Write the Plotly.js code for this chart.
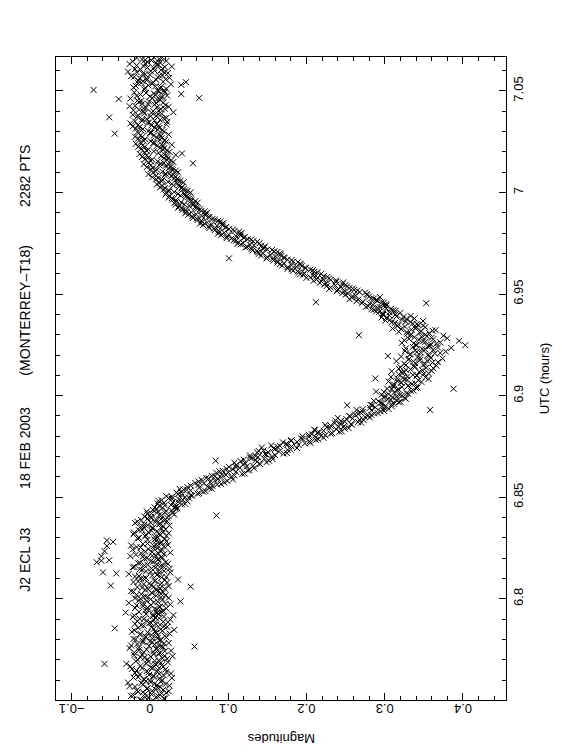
<!DOCTYPE html>
<html>
<head>
<meta charset="utf-8">
<script src="https://cdn.plot.ly/plotly-3.0.1.min.js"></script>
<style>html,body{margin:0;padding:0;background:#fff;}#chart{width:562px;height:756px;}</style>
</head>
<body>
<div id="chart"></div>
<script>
// UTC sample times (hours), first interleaved set
const utc = [
6.7500,6.7505,6.7510,6.7515,6.7520,6.7525,6.7530,6.7535,6.7540,6.7545,
6.7550,6.7555,6.7560,6.7565,6.7570,6.7575,6.7580,6.7585,6.7590,6.7595,
6.7600,6.7605,6.7610,6.7615,6.7620,6.7625,6.7630,6.7635,6.7640,6.7645,
6.7650,6.7655,6.7660,6.7665,6.7670,6.7675,6.7680,6.7685,6.7690,6.7695,
6.7700,6.7705,6.7710,6.7715,6.7720,6.7725,6.7730,6.7735,6.7740,6.7745,
6.7750,6.7755,6.7760,6.7765,6.7770,6.7775,6.7780,6.7785,6.7790,6.7795,
6.7800,6.7805,6.7810,6.7815,6.7820,6.7825,6.7830,6.7835,6.7840,6.7845,
6.7850,6.7855,6.7860,6.7865,6.7870,6.7875,6.7880,6.7885,6.7890,6.7895,
6.7900,6.7905,6.7910,6.7915,6.7920,6.7925,6.7930,6.7935,6.7940,6.7945,
6.7950,6.7955,6.7960,6.7965,6.7970,6.7975,6.7980,6.7985,6.7990,6.7995,
6.8000,6.8005,6.8010,6.8015,6.8020,6.8025,6.8030,6.8035,6.8040,6.8045,
6.8050,6.8055,6.8060,6.8065,6.8070,6.8075,6.8080,6.8085,6.8090,6.8095,
6.8100,6.8105,6.8110,6.8115,6.8120,6.8125,6.8130,6.8135,6.8140,6.8145,
6.8150,6.8155,6.8160,6.8165,6.8170,6.8175,6.8180,6.8185,6.8190,6.8195,
6.8200,6.8205,6.8210,6.8215,6.8220,6.8225,6.8230,6.8235,6.8240,6.8245,
6.8250,6.8255,6.8260,6.8265,6.8270,6.8275,6.8280,6.8285,6.8290,6.8295,
6.8300,6.8305,6.8310,6.8315,6.8320,6.8325,6.8330,6.8335,6.8340,6.8345,
6.8350,6.8355,6.8360,6.8365,6.8370,6.8375,6.8380,6.8385,6.8390,6.8395,
6.8400,6.8405,6.8410,6.8415,6.8420,6.8425,6.8430,6.8435,6.8440,6.8445,
6.8450,6.8455,6.8460,6.8465,6.8470,6.8475,6.8480,6.8485,6.8490,6.8495,
6.8500,6.8505,6.8510,6.8515,6.8520,6.8525,6.8530,6.8535,6.8540,6.8545,
6.8550,6.8555,6.8560,6.8565,6.8570,6.8575,6.8580,6.8585,6.8590,6.8595,
6.8600,6.8605,6.8610,6.8615,6.8620,6.8625,6.8630,6.8635,6.8640,6.8645,
6.8650,6.8655,6.8660,6.8665,6.8670,6.8675,6.8680,6.8685,6.8690,6.8695,
6.8700,6.8705,6.8710,6.8715,6.8720,6.8725,6.8730,6.8735,6.8740,6.8745,
6.8750,6.8755,6.8760,6.8765,6.8770,6.8775,6.8780,6.8785,6.8790,6.8795,
6.8800,6.8805,6.8810,6.8815,6.8820,6.8825,6.8830,6.8835,6.8840,6.8845,
6.8850,6.8855,6.8860,6.8865,6.8870,6.8875,6.8880,6.8885,6.8890,6.8895,
6.8900,6.8905,6.8910,6.8915,6.8920,6.8925,6.8930,6.8935,6.8940,6.8945,
6.8950,6.8955,6.8960,6.8965,6.8970,6.8975,6.8980,6.8985,6.8990,6.8995,
6.9000,6.9005,6.9010,6.9015,6.9020,6.9025,6.9030,6.9035,6.9040,6.9045,
6.9050,6.9055,6.9060,6.9065,6.9070,6.9075,6.9080,6.9085,6.9090,6.9095,
6.9100,6.9105,6.9110,6.9115,6.9120,6.9125,6.9130,6.9135,6.9140,6.9145,
6.9150,6.9155,6.9160,6.9165,6.9170,6.9175,6.9180,6.9185,6.9190,6.9195,
6.9200,6.9205,6.9210,6.9215,6.9220,6.9225,6.9230,6.9235,6.9240,6.9245,
6.9250,6.9255,6.9260,6.9265,6.9270,6.9275,6.9280,6.9285,6.9290,6.9295,
6.9300,6.9305,6.9310,6.9315,6.9320,6.9325,6.9330,6.9335,6.9340,6.9345,
6.9350,6.9355,6.9360,6.9365,6.9370,6.9375,6.9380,6.9385,6.9390,6.9395,
6.9400,6.9405,6.9410,6.9415,6.9420,6.9425,6.9430,6.9435,6.9440,6.9445,
6.9450,6.9455,6.9460,6.9465,6.9470,6.9475,6.9480,6.9485,6.9490,6.9495,
6.9500,6.9505,6.9510,6.9515,6.9520,6.9525,6.9530,6.9535,6.9540,6.9545,
6.9550,6.9555,6.9560,6.9565,6.9570,6.9575,6.9580,6.9585,6.9590,6.9595,
6.9600,6.9605,6.9610,6.9615,6.9620,6.9625,6.9630,6.9635,6.9640,6.9645,
6.9650,6.9655,6.9660,6.9665,6.9670,6.9675,6.9680,6.9685,6.9690,6.9695,
6.9700,6.9705,6.9710,6.9715,6.9720,6.9725,6.9730,6.9735,6.9740,6.9745,
6.9750,6.9755,6.9760,6.9765,6.9770,6.9775,6.9780,6.9785,6.9790,6.9795,
6.9800,6.9805,6.9810,6.9815,6.9820,6.9825,6.9830,6.9835,6.9840,6.9845,
6.9850,6.9855,6.9860,6.9865,6.9870,6.9875,6.9880,6.9885,6.9890,6.9895,
6.9900,6.9905,6.9910,6.9915,6.9920,6.9925,6.9930,6.9935,6.9940,6.9945,
6.9950,6.9955,6.9960,6.9965,6.9970,6.9975,6.9980,6.9985,6.9990,6.9995,
7.0000,7.0005,7.0010,7.0015,7.0020,7.0025,7.0030,7.0035,7.0040,7.0045,
7.0050,7.0055,7.0060,7.0065,7.0070,7.0075,7.0080,7.0085,7.0090,7.0095,
7.0100,7.0105,7.0110,7.0115,7.0120,7.0125,7.0130,7.0135,7.0140,7.0145,
7.0150,7.0155,7.0160,7.0165,7.0170,7.0175,7.0180,7.0185,7.0190,7.0195,
7.0200,7.0205,7.0210,7.0215,7.0220,7.0225,7.0230,7.0235,7.0240,7.0245,
7.0250,7.0255,7.0260,7.0265,7.0270,7.0275,7.0280,7.0285,7.0290,7.0295,
7.0300,7.0305,7.0310,7.0315,7.0320,7.0325,7.0330,7.0335,7.0340,7.0345,
7.0350,7.0355,7.0360,7.0365,7.0370,7.0375,7.0380,7.0385,7.0390,7.0395,
7.0400,7.0405,7.0410,7.0415,7.0420,7.0425,7.0430,7.0435,7.0440,7.0445,
7.0450,7.0455,7.0460,7.0465,7.0470,7.0475,7.0480,7.0485,7.0490,7.0495,
7.0500,7.0505,7.0510,7.0515,7.0520,7.0525,7.0530,7.0535,7.0540,7.0545,
7.0550,7.0555,7.0560,7.0565,7.0570,7.0575,7.0580,7.0585,7.0590,7.0595,
7.0600,7.0605,7.0610,7.0615,7.0620,7.0625,7.0630,7.0635,7.0640,7.0645,
7.0650,7.0655,7.0660,7.0665
];
// Magnitudes, first set
const mag = [
0.004,-0.013,0.018,-0.006,0.011,-0.021,0.002,0.015,-0.009,0.024,
-0.017,0.007,-0.003,0.013,-0.026,0.009,0.020,-0.011,0.001,-0.005,
0.016,-0.008,0.028,-0.015,0.005,-0.001,0.012,-0.019,0.021,-0.004,
0.010,-0.023,0.003,0.017,-0.012,0.008,-0.030,0.014,-0.002,0.006,
-0.016,0.022,-0.007,0.001,0.019,-0.010,0.011,-0.020,0.004,0.027,
-0.004,0.009,-0.014,0.015,-0.024,0.006,0.018,-0.009,0.000,0.012,
-0.018,0.003,0.021,-0.006,0.010,-0.013,0.025,-0.003,0.007,-0.020,
0.014,-0.045,0.002,0.018,-0.011,0.008,-0.001,0.023,-0.016,0.005,
-0.008,0.012,-0.022,0.004,0.030,-0.005,0.009,-0.014,0.017,-0.002,
0.006,-0.019,0.013,-0.009,0.001,0.020,-0.027,0.010,-0.004,0.016,
-0.012,0.024,-0.003,0.008,-0.017,0.014,0.002,-0.021,0.011,-0.006,
0.019,-0.010,0.005,-0.050,0.013,-0.001,0.022,-0.015,0.007,0.036,
-0.008,0.015,-0.019,0.003,0.010,-0.043,0.026,-0.005,0.012,-0.013,
0.002,-0.022,0.017,-0.007,0.009,-0.015,0.020,0.001,-0.052,0.011,
-0.004,0.014,-0.025,0.007,0.018,-0.011,0.003,-0.058,0.016,-0.002,
0.010,-0.017,0.005,0.023,-0.009,0.013,-0.047,0.008,-0.003,0.019,
-0.014,0.006,0.021,-0.005,0.012,-0.020,0.017,0.002,-0.010,0.015,
0.004,-0.012,0.025,-0.007,0.013,0.001,-0.016,0.019,0.008,-0.003,
0.022,-0.007,0.015,0.031,0.002,0.019,-0.004,0.028,0.009,0.035,
0.006,0.034,0.019,0.041,0.010,0.029,0.048,0.015,0.037,0.024,
0.045,0.021,0.052,0.036,0.063,0.040,0.071,0.047,0.038,0.076,
0.048,0.080,0.062,0.091,0.058,0.077,0.099,0.066,0.087,0.072,
0.104,0.079,0.097,0.118,0.085,0.110,0.093,0.127,0.098,0.115,
0.101,0.132,0.119,0.140,0.108,0.137,0.152,0.120,0.146,0.128,
0.156,0.128,0.149,0.171,0.137,0.165,0.145,0.180,0.158,0.143,
0.181,0.155,0.176,0.198,0.170,0.204,0.181,0.215,0.193,0.212,
0.195,0.224,0.207,0.233,0.216,0.245,0.211,0.238,0.254,0.226,
0.248,0.224,0.257,0.236,0.266,0.244,0.273,0.251,0.240,0.275,
0.255,0.283,0.266,0.291,0.272,0.299,0.264,0.305,0.281,0.296,
0.301,0.282,0.312,0.295,0.320,0.286,0.308,0.327,0.299,0.315,
0.322,0.296,0.330,0.312,0.289,0.337,0.318,0.303,0.342,0.311,
0.330,0.312,0.339,0.321,0.305,0.343,0.326,0.316,0.352,0.329,
0.341,0.318,0.356,0.325,0.309,0.348,0.333,0.362,0.320,0.337,
0.327,0.352,0.339,0.368,0.315,0.345,0.331,0.359,0.342,0.304,
0.355,0.333,0.371,0.341,0.326,0.362,0.348,0.385,0.336,0.358,
0.340,0.366,0.322,0.352,0.395,0.344,0.331,0.360,0.347,0.375,
0.352,0.329,0.345,0.318,0.361,0.334,0.310,0.341,0.326,0.349,
0.318,0.336,0.309,0.327,0.301,0.322,0.338,0.296,0.315,0.306,
0.314,0.297,0.306,0.289,0.311,0.283,0.302,0.294,0.279,0.299,
0.302,0.271,0.296,0.264,0.289,0.255,0.283,0.294,0.259,0.278,
0.277,0.246,0.268,0.239,0.261,0.229,0.255,0.244,0.226,0.250,
0.246,0.217,0.238,0.209,0.231,0.221,0.200,0.227,0.212,0.196,
0.219,0.190,0.210,0.183,0.205,0.176,0.198,0.187,0.169,0.193,
0.192,0.163,0.183,0.158,0.176,0.149,0.171,0.160,0.142,0.167,
0.166,0.138,0.159,0.131,0.150,0.144,0.122,0.147,0.133,0.116,
0.140,0.113,0.132,0.107,0.125,0.098,0.121,0.110,0.091,0.115,
0.117,0.089,0.108,0.083,0.101,0.076,0.097,0.086,0.068,0.092,
0.094,0.067,0.087,0.061,0.080,0.055,0.075,0.066,0.049,0.071,
0.073,0.047,0.066,0.042,0.061,0.036,0.058,0.050,0.033,0.055,
0.061,0.034,0.053,0.029,0.050,0.024,0.046,0.039,0.020,0.044,
0.052,0.024,0.045,0.018,0.040,0.013,0.038,0.030,0.009,0.035,
0.043,0.015,0.036,0.008,0.031,0.003,0.027,0.019,-0.002,0.025,
0.036,0.007,0.029,0.001,0.024,-0.004,0.020,0.012,-0.008,0.018,
0.030,0.001,0.022,-0.006,0.018,-0.010,0.014,0.033,-0.013,0.011,
0.025,-0.004,0.017,-0.011,0.013,-0.015,0.009,0.028,-0.018,0.006,
0.021,-0.008,0.013,-0.015,0.009,-0.019,0.005,0.024,-0.045,0.002,
0.018,-0.011,0.010,-0.018,0.006,-0.022,0.002,0.021,-0.025,-0.001,
-0.019,0.006,-0.010,0.018,-0.052,0.001,-0.015,0.011,-0.007,0.030,
0.004,-0.021,0.014,-0.008,0.009,-0.026,0.020,-0.002,0.008,-0.014,
-0.011,0.013,-0.040,0.003,0.016,-0.017,0.007,0.040,-0.005,0.019,
0.010,-0.072,0.021,-0.006,0.014,-0.018,0.040,0.003,-0.011,0.017,
-0.015,0.008,-0.004,0.025,-0.020,0.012,0.000,-0.009,0.019,-0.028,
0.006,-0.012,0.016,-0.003,0.028,-0.017,0.009,-0.006,0.013,-0.022,
0.002,-0.010,0.015,0.005
];
// UTC sample times (hours), second interleaved set
const utc2 = [
6.75025,6.75075,6.75125,6.75175,6.75225,6.75275,6.75325,6.75375,6.75425,6.75475,
6.75525,6.75575,6.75625,6.75675,6.75725,6.75775,6.75825,6.75875,6.75925,6.75975,
6.76025,6.76075,6.76125,6.76175,6.76225,6.76275,6.76325,6.76375,6.76425,6.76475,
6.76525,6.76575,6.76625,6.76675,6.76725,6.76775,6.76825,6.76875,6.76925,6.76975,
6.77025,6.77075,6.77125,6.77175,6.77225,6.77275,6.77325,6.77375,6.77425,6.77475,
6.77525,6.77575,6.77625,6.77675,6.77725,6.77775,6.77825,6.77875,6.77925,6.77975,
6.78025,6.78075,6.78125,6.78175,6.78225,6.78275,6.78325,6.78375,6.78425,6.78475,
6.78525,6.78575,6.78625,6.78675,6.78725,6.78775,6.78825,6.78875,6.78925,6.78975,
6.79025,6.79075,6.79125,6.79175,6.79225,6.79275,6.79325,6.79375,6.79425,6.79475,
6.79525,6.79575,6.79625,6.79675,6.79725,6.79775,6.79825,6.79875,6.79925,6.79975,
6.80025,6.80075,6.80125,6.80175,6.80225,6.80275,6.80325,6.80375,6.80425,6.80475,
6.80525,6.80575,6.80625,6.80675,6.80725,6.80775,6.80825,6.80875,6.80925,6.80975,
6.81025,6.81075,6.81125,6.81175,6.81225,6.81275,6.81325,6.81375,6.81425,6.81475,
6.81525,6.81575,6.81625,6.81675,6.81725,6.81775,6.81825,6.81875,6.81925,6.81975,
6.82025,6.82075,6.82125,6.82175,6.82225,6.82275,6.82325,6.82375,6.82425,6.82475,
6.82525,6.82575,6.82625,6.82675,6.82725,6.82775,6.82825,6.82875,6.82925,6.82975,
6.83025,6.83075,6.83125,6.83175,6.83225,6.83275,6.83325,6.83375,6.83425,6.83475,
6.83525,6.83575,6.83625,6.83675,6.83725,6.83775,6.83825,6.83875,6.83925,6.83975,
6.84025,6.84075,6.84125,6.84175,6.84225,6.84275,6.84325,6.84375,6.84425,6.84475,
6.84525,6.84575,6.84625,6.84675,6.84725,6.84775,6.84825,6.84875,6.84925,6.84975,
6.85025,6.85075,6.85125,6.85175,6.85225,6.85275,6.85325,6.85375,6.85425,6.85475,
6.85525,6.85575,6.85625,6.85675,6.85725,6.85775,6.85825,6.85875,6.85925,6.85975,
6.86025,6.86075,6.86125,6.86175,6.86225,6.86275,6.86325,6.86375,6.86425,6.86475,
6.86525,6.86575,6.86625,6.86675,6.86725,6.86775,6.86825,6.86875,6.86925,6.86975,
6.87025,6.87075,6.87125,6.87175,6.87225,6.87275,6.87325,6.87375,6.87425,6.87475,
6.87525,6.87575,6.87625,6.87675,6.87725,6.87775,6.87825,6.87875,6.87925,6.87975,
6.88025,6.88075,6.88125,6.88175,6.88225,6.88275,6.88325,6.88375,6.88425,6.88475,
6.88525,6.88575,6.88625,6.88675,6.88725,6.88775,6.88825,6.88875,6.88925,6.88975,
6.89025,6.89075,6.89125,6.89175,6.89225,6.89275,6.89325,6.89375,6.89425,6.89475,
6.89525,6.89575,6.89625,6.89675,6.89725,6.89775,6.89825,6.89875,6.89925,6.89975,
6.90025,6.90075,6.90125,6.90175,6.90225,6.90275,6.90325,6.90375,6.90425,6.90475,
6.90525,6.90575,6.90625,6.90675,6.90725,6.90775,6.90825,6.90875,6.90925,6.90975,
6.91025,6.91075,6.91125,6.91175,6.91225,6.91275,6.91325,6.91375,6.91425,6.91475,
6.91525,6.91575,6.91625,6.91675,6.91725,6.91775,6.91825,6.91875,6.91925,6.91975,
6.92025,6.92075,6.92125,6.92175,6.92225,6.92275,6.92325,6.92375,6.92425,6.92475,
6.92525,6.92575,6.92625,6.92675,6.92725,6.92775,6.92825,6.92875,6.92925,6.92975,
6.93025,6.93075,6.93125,6.93175,6.93225,6.93275,6.93325,6.93375,6.93425,6.93475,
6.93525,6.93575,6.93625,6.93675,6.93725,6.93775,6.93825,6.93875,6.93925,6.93975,
6.94025,6.94075,6.94125,6.94175,6.94225,6.94275,6.94325,6.94375,6.94425,6.94475,
6.94525,6.94575,6.94625,6.94675,6.94725,6.94775,6.94825,6.94875,6.94925,6.94975,
6.95025,6.95075,6.95125,6.95175,6.95225,6.95275,6.95325,6.95375,6.95425,6.95475,
6.95525,6.95575,6.95625,6.95675,6.95725,6.95775,6.95825,6.95875,6.95925,6.95975,
6.96025,6.96075,6.96125,6.96175,6.96225,6.96275,6.96325,6.96375,6.96425,6.96475,
6.96525,6.96575,6.96625,6.96675,6.96725,6.96775,6.96825,6.96875,6.96925,6.96975,
6.97025,6.97075,6.97125,6.97175,6.97225,6.97275,6.97325,6.97375,6.97425,6.97475,
6.97525,6.97575,6.97625,6.97675,6.97725,6.97775,6.97825,6.97875,6.97925,6.97975,
6.98025,6.98075,6.98125,6.98175,6.98225,6.98275,6.98325,6.98375,6.98425,6.98475,
6.98525,6.98575,6.98625,6.98675,6.98725,6.98775,6.98825,6.98875,6.98925,6.98975,
6.99025,6.99075,6.99125,6.99175,6.99225,6.99275,6.99325,6.99375,6.99425,6.99475,
6.99525,6.99575,6.99625,6.99675,6.99725,6.99775,6.99825,6.99875,6.99925,6.99975,
7.00025,7.00075,7.00125,7.00175,7.00225,7.00275,7.00325,7.00375,7.00425,7.00475,
7.00525,7.00575,7.00625,7.00675,7.00725,7.00775,7.00825,7.00875,7.00925,7.00975,
7.01025,7.01075,7.01125,7.01175,7.01225,7.01275,7.01325,7.01375,7.01425,7.01475,
7.01525,7.01575,7.01625,7.01675,7.01725,7.01775,7.01825,7.01875,7.01925,7.01975,
7.02025,7.02075,7.02125,7.02175,7.02225,7.02275,7.02325,7.02375,7.02425,7.02475,
7.02525,7.02575,7.02625,7.02675,7.02725,7.02775,7.02825,7.02875,7.02925,7.02975,
7.03025,7.03075,7.03125,7.03175,7.03225,7.03275,7.03325,7.03375,7.03425,7.03475,
7.03525,7.03575,7.03625,7.03675,7.03725,7.03775,7.03825,7.03875,7.03925,7.03975,
7.04025,7.04075,7.04125,7.04175,7.04225,7.04275,7.04325,7.04375,7.04425,7.04475,
7.04525,7.04575,7.04625,7.04675,7.04725,7.04775,7.04825,7.04875,7.04925,7.04975,
7.05025,7.05075,7.05125,7.05175,7.05225,7.05275,7.05325,7.05375,7.05425,7.05475,
7.05525,7.05575,7.05625,7.05675,7.05725,7.05775,7.05825,7.05875,7.05925,7.05975,
7.06025,7.06075,7.06125,7.06175,7.06225,7.06275,7.06325,7.06375,7.06425,7.06475,
7.06525,7.06575,7.06625
];
// Magnitudes, second set
const mag2 = [
-0.011,0.019,-0.002,0.008,-0.024,0.013,-0.006,0.021,-0.015,0.003,
0.017,-0.004,0.010,-0.019,0.025,-0.009,0.006,-0.028,0.014,0.000,
-0.007,0.012,-0.021,0.004,0.018,-0.013,0.027,-0.002,0.009,-0.017,
0.020,-0.010,0.001,-0.025,0.015,0.007,-0.005,0.023,-0.018,0.011,
-0.003,0.016,-0.012,0.029,-0.020,0.005,0.013,-0.008,0.019,-0.014,
0.008,-0.026,0.017,-0.001,0.011,-0.016,0.024,0.003,-0.009,0.014,
-0.021,0.010,-0.005,0.019,0.002,-0.012,0.008,-0.023,0.016,0.031,
0.005,-0.015,0.022,-0.008,0.013,-0.019,0.001,0.017,-0.004,0.026,
-0.013,0.007,0.018,-0.020,0.004,0.011,-0.031,0.015,-0.006,0.009,
0.021,-0.003,0.012,-0.017,0.026,-0.009,0.005,0.039,-0.014,0.001,
-0.019,0.014,-0.006,0.020,-0.011,0.003,0.017,-0.024,0.008,-0.002,
0.013,-0.016,0.024,0.002,-0.008,0.015,-0.021,0.006,0.019,-0.012,
-0.005,0.021,-0.014,0.009,-0.027,0.012,0.001,0.018,-0.010,0.025,
0.007,-0.020,0.014,-0.003,0.023,-0.013,0.004,-0.062,0.010,-0.007,
0.016,-0.009,0.003,-0.018,0.011,0.026,-0.006,0.013,-0.022,0.005,
-0.012,0.018,-0.024,0.008,-0.003,0.015,0.021,-0.055,0.006,-0.016,
0.010,-0.006,0.013,-0.021,0.024,-0.002,0.009,-0.014,0.020,0.003,
-0.008,0.017,-0.003,0.012,-0.019,0.007,0.022,-0.011,0.014,0.002,
0.001,0.024,0.012,-0.003,0.029,0.010,0.021,0.004,0.033,0.016,
0.032,0.012,0.027,0.045,0.018,0.036,0.011,0.042,0.028,0.050,
0.028,0.054,0.040,0.061,0.034,0.068,0.052,0.043,0.079,0.063,
0.074,0.052,0.086,0.069,0.095,0.062,0.083,0.106,0.075,0.091,
0.083,0.108,0.092,0.121,0.100,0.089,0.125,0.106,0.133,0.110,
0.124,0.110,0.141,0.122,0.149,0.116,0.135,0.157,0.130,0.138,
0.135,0.160,0.147,0.175,0.151,0.139,0.176,0.160,0.188,0.163,
0.166,0.190,0.174,0.205,0.188,0.180,0.212,0.195,0.222,0.203,
0.219,0.203,0.231,0.214,0.242,0.222,0.210,0.249,0.230,0.241,
0.231,0.258,0.243,0.270,0.249,0.237,0.268,0.259,0.281,0.256,
0.279,0.262,0.287,0.269,0.295,0.283,0.272,0.300,0.288,0.309,
0.284,0.309,0.297,0.318,0.292,0.315,0.304,0.326,0.310,0.300,
0.319,0.305,0.328,0.299,0.334,0.316,0.309,0.340,0.322,0.330,
0.310,0.335,0.321,0.347,0.316,0.329,0.356,0.323,0.308,0.341,
0.336,0.350,0.322,0.344,0.360,0.327,0.318,0.353,0.339,0.366,
0.349,0.325,0.361,0.337,0.354,0.330,0.374,0.345,0.321,0.357,
0.332,0.364,0.346,0.378,0.339,0.352,0.327,0.368,0.355,0.341,
0.359,0.337,0.371,0.349,0.325,0.362,0.380,0.338,0.354,0.333,
0.334,0.357,0.328,0.346,0.365,0.321,0.339,0.352,0.316,0.343,
0.341,0.313,0.333,0.349,0.307,0.328,0.302,0.324,0.333,0.298,
0.298,0.320,0.293,0.314,0.286,0.308,0.291,0.276,0.302,0.285,
0.281,0.299,0.272,0.291,0.266,0.286,0.258,0.280,0.263,0.250,
0.253,0.275,0.248,0.265,0.240,0.259,0.231,0.252,0.237,0.223,
0.225,0.247,0.219,0.238,0.213,0.229,0.205,0.222,0.209,0.192,
0.197,0.214,0.189,0.208,0.181,0.199,0.176,0.194,0.181,0.166,
0.171,0.189,0.163,0.181,0.157,0.172,0.150,0.168,0.154,0.139,
0.144,0.163,0.137,0.156,0.130,0.146,0.124,0.142,0.128,0.112,
0.119,0.137,0.110,0.129,0.104,0.120,0.098,0.116,0.101,0.087,
0.095,0.114,0.088,0.106,0.082,0.097,0.075,0.093,0.079,0.064,
0.073,0.090,0.066,0.083,0.060,0.076,0.054,0.071,0.059,0.045,
0.053,0.070,0.046,0.064,0.041,0.060,0.037,0.055,0.044,0.031,
0.040,0.058,0.033,0.052,0.028,0.049,0.025,0.045,0.036,0.021,
0.031,0.048,0.024,0.043,0.019,0.041,0.016,0.037,0.028,0.011,
0.023,0.039,0.016,0.035,0.011,0.033,0.008,0.030,0.020,0.004,
0.016,0.033,0.009,0.028,0.004,0.027,0.001,0.024,0.014,-0.002,
0.010,0.027,0.003,0.023,-0.002,0.022,-0.004,0.019,0.041,-0.007,
0.005,0.022,-0.002,0.018,-0.007,0.017,-0.009,0.015,0.004,-0.012,
0.001,0.019,-0.006,0.015,-0.010,0.014,-0.012,0.012,0.000,-0.016,
-0.002,0.016,-0.009,0.012,-0.013,0.011,-0.015,0.009,-0.003,0.022,
-0.010,0.013,-0.004,0.021,-0.016,0.008,-0.022,0.015,0.002,-0.008,
0.011,-0.014,0.019,-0.005,0.024,-0.019,0.006,-0.010,0.017,-0.001,
-0.016,0.009,-0.025,0.014,0.000,0.022,-0.012,0.005,-0.020,0.012,
0.018,-0.007,0.013,-0.021,0.007,-0.002,0.027,-0.015,0.004,-0.009,
-0.004,0.020,-0.013,0.010,-0.024,0.016,-0.006,0.023,-0.017,0.001,
0.014,-0.019,0.005,0.019,-0.008,0.011,-0.026,0.008,-0.003,0.021,
-0.006,0.012,-0.017
];
// Isolated outlying points
const outUtc = [6.9248,6.9034,6.8930,6.9460,6.9676,6.9455,6.8953,6.8680,6.9298,6.9085,7.0465,7.0543,7.0144,6.8180,6.8130,6.8210,6.8260,6.7680,6.7765,6.8060,6.8410];
const outMag = [0.403,0.388,0.358,0.212,0.101,0.353,0.252,0.084,0.267,0.288,0.063,0.046,0.055,-0.068,-0.060,-0.062,-0.055,-0.058,0.057,0.052,0.085];

const magTicks = [-0.1, 0, 0.1, 0.2, 0.3, 0.4];
const titleParts = ['J2 ECL J3', '18 FEB 2003', '(MONTERREY\u2013T18)', '2282 PTS'];

const FONT = 'Liberation Sans, Arial, sans-serif';
const titleY = [0.218, 0.392, 0.607, 0.815];

const trace = {
  type: 'scatter', mode: 'markers',
  x: mag.concat(mag2, outMag),
  y: utc.concat(utc2, outUtc),
  marker: {symbol: 'x-thin-open', size: 6, color: '#000',
           line: {width: 1, color: 'rgba(0,0,0,0.8)'}},
  hoverinfo: 'skip'
};

const annotations = titleParts.map((t, i) => ({
  text: t, xref: 'paper', yref: 'paper', x: -0.069, y: titleY[i],
  xanchor: 'center', yanchor: 'middle', textangle: -90, showarrow: false,
  font: {family: FONT, size: 14, color: '#000'}
}));
annotations.push({
  text: 'Magnitudes', xref: 'paper', yref: 'paper', x: 0.5, y: -0.059,
  xanchor: 'center', yanchor: 'middle', textangle: 180, showarrow: false,
  font: {family: FONT, size: 13, color: '#000'}
});

const layout = {
  width: 562, height: 756,
  margin: {l: 56, r: 56, t: 57, b: 56},
  paper_bgcolor: '#fff', plot_bgcolor: '#fff',
  showlegend: false,
  font: {family: FONT, size: 13, color: '#000'},
  xaxis: {
    range: [-0.12, 0.455], tickmode: 'array', tickvals: magTicks,
    tickangle: 180, ticks: 'inside', ticklen: 7, tickwidth: 1, tickcolor: '#000',
    minor: {tickmode: 'linear', tick0: 0, dtick: 0.02, ticks: 'inside', ticklen: 4, tickwidth: 1, tickcolor: '#000', showgrid: false},
    mirror: 'allticks', showline: true, linecolor: '#000', linewidth: 1,
    showgrid: false, zeroline: false,
    tickfont: {family: FONT, size: 13, color: '#000'}
  },
  yaxis: {
    range: [6.7502, 7.0667], side: 'right',
    tickmode: 'linear', tick0: 6.8, dtick: 0.05,
    tickangle: -90, ticks: 'inside', ticklen: 7, tickwidth: 1, tickcolor: '#000',
    minor: {tickmode: 'linear', tick0: 6.8, dtick: 0.01, ticks: 'inside', ticklen: 4, tickwidth: 1, tickcolor: '#000', showgrid: false},
    mirror: 'allticks', showline: true, linecolor: '#000', linewidth: 1,
    showgrid: false, zeroline: false,
    tickfont: {family: FONT, size: 13, color: '#000'},
    title: {text: 'UTC (hours)', font: {family: FONT, size: 13, color: '#000'}}
  },
  annotations: annotations
};

Plotly.newPlot('chart', [trace], layout, {displayModeBar: false, staticPlot: true});
</script>
</body>
</html>
